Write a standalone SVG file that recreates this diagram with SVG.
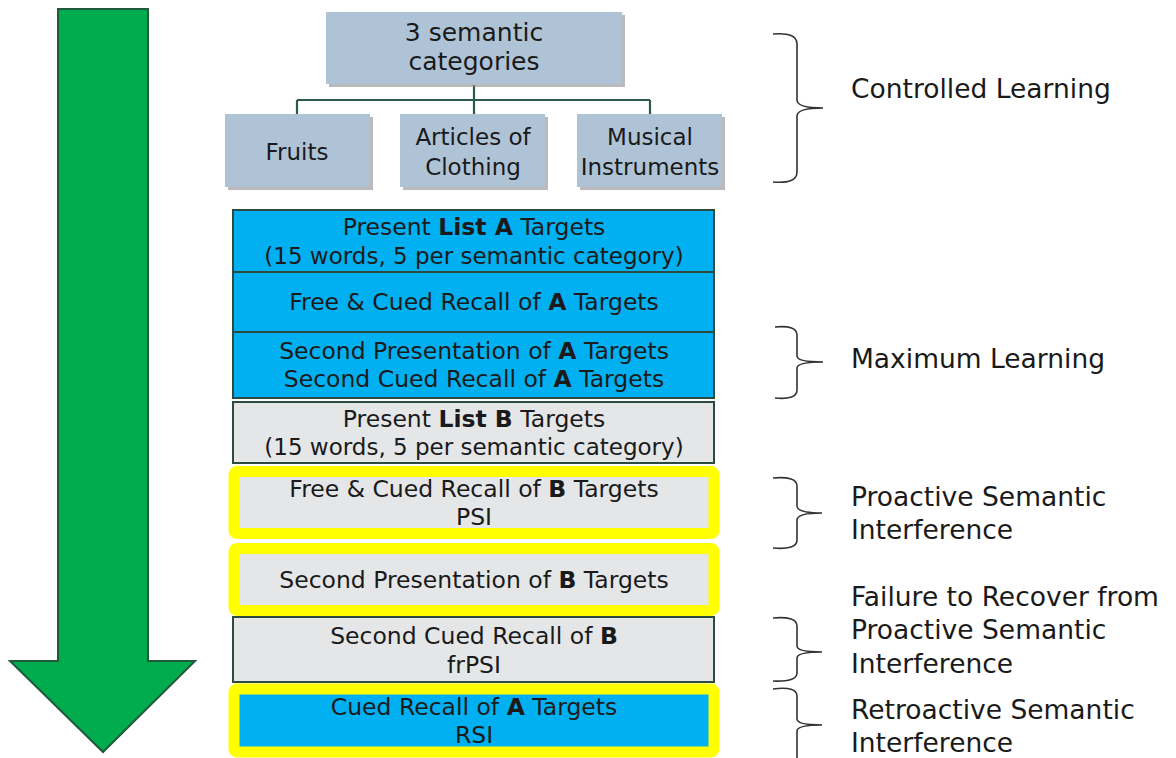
<svg xmlns="http://www.w3.org/2000/svg" width="1176" height="758" viewBox="0 0 1176 758">
<style>
text{font-family:"DejaVu Sans","Liberation Sans",sans-serif;fill:#1a1a1a;text-anchor:middle}
.cat{fill:#afc3d6}
.sh{fill:#8c8c8c;opacity:0.6}
.blue{fill:#00b0f0;stroke:#2c4a40;stroke-width:2}
.gray{fill:#e4e6e8;stroke:#2c4a40;stroke-width:2}
.yel{fill:none;stroke:#ffff00;stroke-width:11}
.t22{font-size:23.5px}
.t23{font-size:23px}
.t24{font-size:25px}
.lab{font-size:26.5px;text-anchor:start}
.br{fill:none;stroke:#333;stroke-width:1.6}
.conn{fill:none;stroke:#2d5a46;stroke-width:2.2}
</style>
<g id="arrow">
<polygon points="58,9 148,9 148,661 195,661 103,752 10,661 58,661" fill="#00ac4e" stroke="#1f5a3c" stroke-width="2"/>
</g>
<g id="connectors">
<path class="conn" d="M474,85 V114 M297,100 H650 M297,100 V114 M650,100 V114"/>
</g>
<g id="root">
<rect class="sh" x="329" y="15" width="296" height="72"/>
<rect class="cat" x="326" y="12" width="296" height="72"/>
<text class="t24" x="474" y="41">3 semantic</text>
<text class="t24" x="474" y="70">categories</text>
</g>
<g id="fruits">
<rect class="sh" x="228" y="117" width="145" height="73"/>
<rect class="cat" x="225" y="114" width="145" height="73"/>
<text class="t23" x="297" y="160">Fruits</text>
</g>
<g id="clothing">
<rect class="sh" x="403" y="117" width="145" height="73"/>
<rect class="cat" x="400" y="114" width="145" height="73"/>
<text class="t23" x="473" y="145">Articles of</text>
<text class="t23" x="473" y="175">Clothing</text>
</g>
<g id="instruments">
<rect class="sh" x="580" y="117" width="145" height="73"/>
<rect class="cat" x="577" y="114" width="145" height="73"/>
<text class="t23" x="650" y="145">Musical</text>
<text class="t23" x="650" y="175">Instruments</text>
</g>
<g id="listA">
<rect class="blue" x="233" y="210" width="481" height="62"/>
<text class="t22" x="474" y="235">Present <tspan font-weight="bold">List A</tspan> Targets</text>
<text class="t23" x="474" y="264">(15 words, 5 per semantic category)</text>
</g>
<g id="recallA">
<rect class="blue" x="233" y="272" width="481" height="60"/>
<text class="t22" x="474" y="310">Free &amp; Cued Recall of <tspan font-weight="bold">A</tspan> Targets</text>
</g>
<g id="secondA">
<rect class="blue" x="233" y="332" width="481" height="66"/>
<text class="t22" x="474" y="359">Second Presentation of <tspan font-weight="bold">A</tspan> Targets</text>
<text class="t22" x="474" y="387">Second Cued Recall of <tspan font-weight="bold">A</tspan> Targets</text>
</g>
<g id="listB">
<rect class="gray" x="233" y="402" width="481" height="61"/>
<text class="t22" x="474" y="427">Present <tspan font-weight="bold">List B</tspan> Targets</text>
<text class="t23" x="474" y="455">(15 words, 5 per semantic category)</text>
</g>
<g id="recallB">
<rect x="234" y="471.5" width="480" height="62" rx="3" class="yel" style="fill:#e4e6e8"/>
<text class="t22" x="474" y="497">Free &amp; Cued Recall of <tspan font-weight="bold">B</tspan> Targets</text>
<text class="t22" x="474" y="525">PSI</text>
</g>
<g id="secondB">
<rect x="234" y="548.5" width="480" height="62" rx="3" class="yel" style="fill:#e4e6e8"/>
<text class="t22" x="474" y="588">Second Presentation of <tspan font-weight="bold">B</tspan> Targets</text>
</g>
<g id="cuedB">
<rect class="gray" x="233" y="617" width="481" height="65"/>
<text class="t22" x="474" y="644">Second Cued Recall of <tspan font-weight="bold">B</tspan></text>
<text class="t22" x="474" y="673">frPSI</text>
</g>
<g id="cuedA">
<rect x="234" y="689" width="480" height="63" rx="3" class="yel" style="fill:#00b0f0"/>
<text class="t22" x="474" y="715">Cued Recall of <tspan font-weight="bold">A</tspan> Targets</text>
<text class="t22" x="474" y="743">RSI</text>
</g>
<g id="brace-controlled">
<path class="br" d="M773,34 Q797,32 797,44 L797,100 Q797,108 823,108 Q797,108 797,116 L797,172 Q797,184 773,182"/>
<text class="lab" x="851" y="98">Controlled Learning</text>
</g>
<g id="brace-maximum">
<path class="br" d="M775,327 Q797,325 797,335 L797,356 Q797,362 823,362 Q797,362 797,368 L797,390 Q797,400 775,398"/>
<text class="lab" x="851" y="368">Maximum Learning</text>
</g>
<g id="brace-psi">
<path class="br" d="M773,478 Q797,476 797,486 L797,506 Q797,513 822,513 Q797,513 797,520 L797,540 Q797,550 773,548"/>
<text class="lab" x="851" y="506">Proactive Semantic</text>
<text class="lab" x="851" y="539">Interference</text>
</g>
<g id="brace-frpsi">
<path class="br" d="M773,618 Q797,616 797,626 L797,646 Q797,652 822,652 Q797,652 797,658 L797,673 Q797,682 773,681"/>
<text class="lab" x="851" y="606">Failure to Recover from</text>
<text class="lab" x="851" y="639">Proactive Semantic</text>
<text class="lab" x="851" y="673">Interference</text>
</g>
<g id="brace-rsi">
<path class="br" d="M773,689 Q797,686 797,696 L797,719 Q797,725 822,725 Q797,725 797,731 L797,758"/>
<text class="lab" x="851" y="719">Retroactive Semantic</text>
<text class="lab" x="851" y="752">Interference</text>
</g>
</svg>
